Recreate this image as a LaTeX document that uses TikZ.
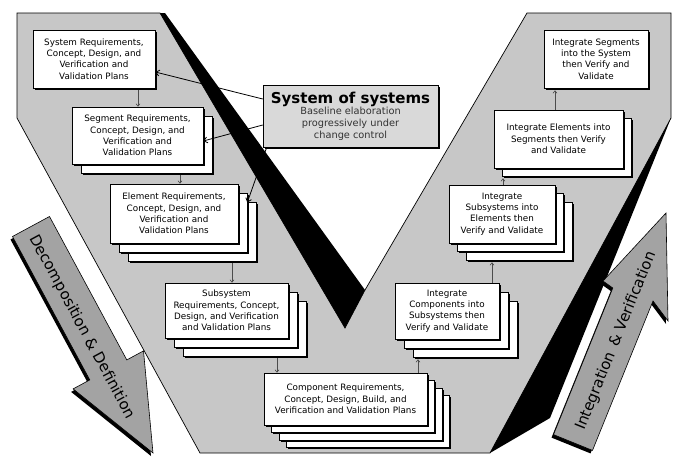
\documentclass[tikz,border=0pt]{standalone}
\usepackage{fontspec}
\setmainfont{DejaVu Sans}
\usetikzlibrary{arrows.meta,shadows}
\definecolor{armgray}{gray}{0.78}
\definecolor{notegray}{gray}{0.85}
\definecolor{flowgray}{gray}{0.64}
\tikzset{
  arm/.style={draw=black,fill=armgray,line width=0.7pt},
  card/.style={draw=black,fill=white,line width=0.6pt,align=center,inner sep=1pt,
    font=\fontsize{8.8}{11.3}\selectfont},
  sheet/.style={general shadow={shadow xshift=#1+1.8pt,shadow yshift=-#1-1.8pt,fill=black},
    general shadow={shadow xshift=#1,shadow yshift=-#1,fill=white,draw=black,line width=0.6pt}},
  link/.style={-{Straight Barb[length=2.5pt,width=4pt]},draw=black!70,line width=0.6pt},
  note/.style={-{Straight Barb[length=3.5pt,width=6pt]},draw=black,line width=0.8pt},
  flow/.style={draw=black,fill=flowgray,line width=0.6pt},
  flowtext/.style={font=\fontsize{15}{15}\selectfont},
}
\begin{document}
\begin{tikzpicture}[x=1pt,y=-1pt]
  \useasboundingbox (0,0) rectangle (678,456);

  % the V and its dark edges
  \draw[arm] (17,13) -- (160,13) -- (345,328) -- (365,290) -- (527,13) -- (671,13)
    -- (671,118) -- (490,453) -- (200,453) -- (17,118) -- cycle;
  \fill (160,13) -- (345,328) -- (365,290) -- (165,13) -- cycle;
  \fill (671,118) -- (490,453) -- (550,418) -- cycle;

  % phase arrows
  \fill[shift={(-2,3)}] (12.5,236.5) -- (49.5,216.5) -- (126.8,359.9) -- (143.5,350.9)
    -- (153,453) -- (73.1,388.9) -- (89.8,379.9) -- cycle;
  \draw[flow] (12.5,236.5) -- (49.5,216.5) -- (126.8,359.9) -- (143.5,350.9)
    -- (153,453) -- (73.1,388.9) -- (89.8,379.9) -- cycle;
  \node[flowtext,rotate=-61.7] (decomp) at (82,327) {Decomposition \& Definition};

  \fill[shift={(-2,3)}] (553.5,434.6) -- (612.8,288) -- (603,281) -- (666,213)
    -- (668,321) -- (653,301) -- (592.5,450.4) -- cycle;
  \draw[flow] (553.5,434.6) -- (612.8,288) -- (603,281) -- (666,213)
    -- (668,321) -- (653,301) -- (592.5,450.4) -- cycle;
  \node[flowtext,rotate=68] (integ) at (616,341) {Integration \,\& Verification};

  % left side: requirements
  \node[card,minimum width=122pt,minimum height=58pt,sheet=0pt] (sys) at (94,59)
    {System Requirements,\\Concept, Design, and\\Verification and\\Validation Plans};
  \node[card,minimum width=131pt,minimum height=57pt,sheet=9pt,sheet=0pt] (seg) at (137.5,135.5)
    {Segment Requirements,\\Concept, Design, and\\Verification and\\Validation Plans};
  \node[card,minimum width=128pt,minimum height=59pt,sheet=18pt,sheet=9pt,sheet=0pt] (ele) at (174,213.5)
    {Element Requirements,\\Concept, Design, and\\Verification and\\Validation Plans};
  \node[card,minimum width=123pt,minimum height=55pt,sheet=18pt,sheet=9pt,sheet=0pt] (subsys) at (226.5,310.5)
    {Subsystem\\Requirements, Concept,\\Design, and Verification\\and Validation Plans};
  \node[card,minimum width=163pt,minimum height=52pt,sheet=22.5pt,sheet=15pt,sheet=7.5pt,sheet=0pt] (comp) at (345.5,399)
    {Component Requirements,\\Concept, Design, Build, and\\Verification and Validation Plans};

  % right side: integration
  \node[card,minimum width=104pt,minimum height=56pt,sheet=18pt,sheet=9pt,sheet=0pt] (isub) at (447,311)
    {Integrate\\Components into\\Subsystems then\\Verify and Validate};
  \node[card,minimum width=106pt,minimum height=58pt,sheet=17pt,sheet=8.5pt,sheet=0pt] (iele) at (502,214)
    {Integrate\\Subsystems into\\Elements then\\Verify and Validate};
  \node[card,minimum width=129pt,minimum height=58pt,sheet=8pt,sheet=0pt] (iseg) at (558.5,139)
    {Integrate Elements into\\Segments then Verify\\and Validate};
  \node[card,minimum width=104pt,minimum height=58pt,sheet=0pt] (isys) at (596,59)
    {Integrate Segments\\into the System\\then Verify and\\Validate};

  % system of systems note
  \node[draw=black,fill=notegray,line width=0.6pt,align=center,inner sep=1pt,
        minimum width=175pt,minimum height=62pt,text=black!80,
        font=\fontsize{9.8}{11.6}\selectfont,
        general shadow={shadow xshift=2pt,shadow yshift=-2pt,fill=black}] (sos) at (350.5,116)
    {\textcolor{black}{\fontsize{15}{17}\selectfont\bfseries System of systems}\\
     Baseline elaboration\\progressively under\\change control};

  \draw[note] ([yshift=17pt]sos.west) -- ([yshift=-13pt]sys.east);
  \draw[note] ([yshift=-9pt]sos.west) -- ([yshift=-5.5pt]seg.east);
  \draw[note] ([xshift=4pt]sos.south west) -- ([xshift=9pt,yshift=11pt]ele.east);

  % flow between levels
  \draw[link,shorten <=2pt] (sys.south -| 138,0) -- (seg.north -| 138,0);
  \draw[link,shorten <=11pt] (seg.south -| 180,0) -- (ele.north -| 180,0);
  \draw[link,shorten <=20pt] (ele.south -| 232,0) -- (subsys.north -| 232,0);
  \draw[link,shorten <=20pt] (subsys.south -| 277,0) -- (comp.north -| 277,0);
  \draw[link,shorten >=20pt] (comp.north -| 418,0) -- (isub.south -| 418,0);
  \draw[link,shorten >=19pt] (isub.north -| 492,0) -- (iele.south -| 492,0);
  \draw[link,shorten >=10pt] (iele.north -| 503,0) -- (iseg.south -| 503,0);
  \draw[link,shorten >=2pt] (iseg.north -| 555,0) -- (isys.south -| 555,0);
\end{tikzpicture}
\end{document}
